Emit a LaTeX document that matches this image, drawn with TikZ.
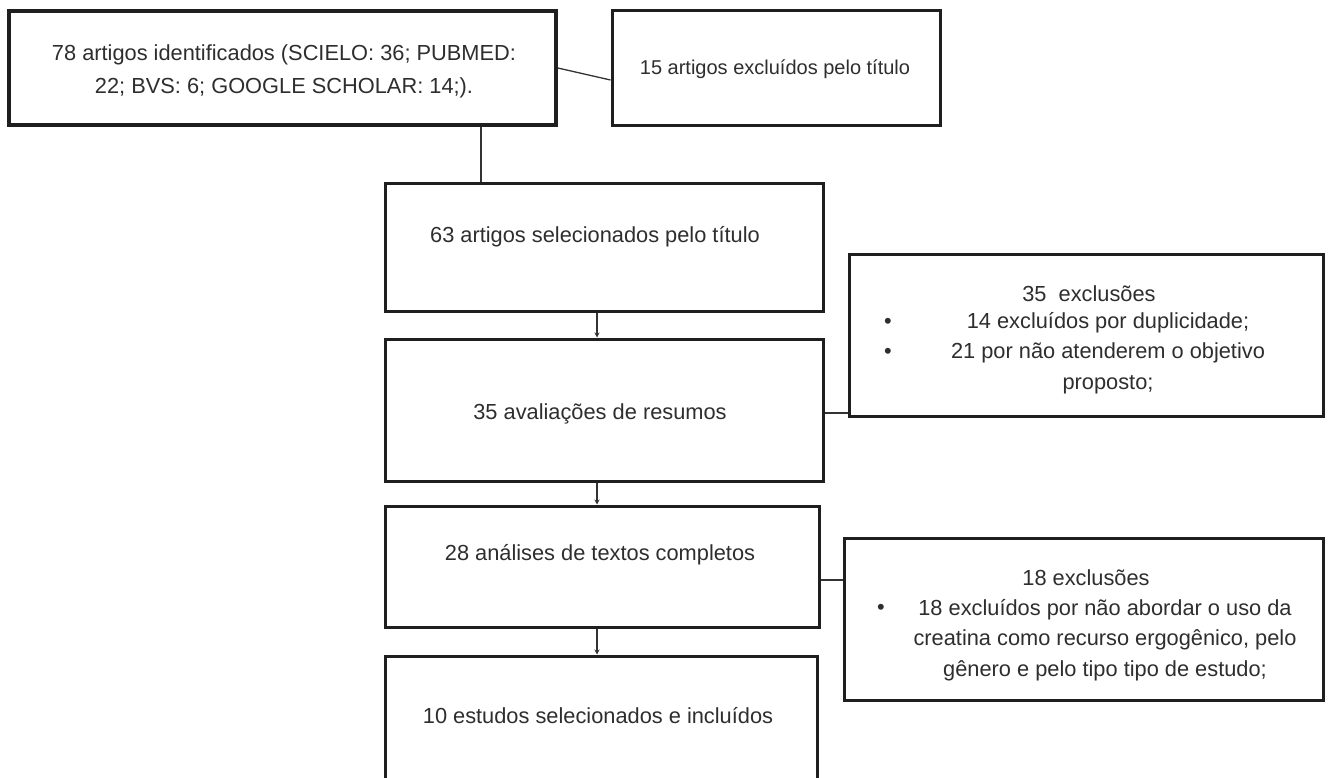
\documentclass[tikz,border=0pt]{standalone}
\usepackage{fontspec}
\setmainfont{Liberation Sans}
\usetikzlibrary{arrows.meta}
\begin{document}
\begin{tikzpicture}[x=1pt,y=-1pt,
 box/.style={draw=black!88, line width=3pt, inner sep=0pt, fill=white},
 txt/.style={font=\fontsize{21.8}{33}\selectfont, text=black!82, inner sep=0pt, align=center},
 stxt/.style={font=\fontsize{21.8}{30.5}\selectfont, text=black!82, inner sep=0pt, align=center},
 link/.style={draw=black!80, line width=1.3pt},
 arr/.style={link, -{Stealth[length=5pt,width=5pt]}}]
\useasboundingbox (0,0) rectangle (1330,778);
\clip (0,0) rectangle (1330,778);
\fill[white] (0,0) rectangle (1330,778);
% boxes
\node[box, line width=3.6pt, minimum width=547pt, minimum height=114pt] (A) at (282.5,68) {};
\node[box, minimum width=328pt, minimum height=115pt] (B) at (776,68.5) {};
\node[box, minimum width=438pt, minimum height=127pt] (C) at (604,247.5) {};
\node[box, minimum width=438pt, minimum height=142pt] (D) at (604,410) {};
\node[box, minimum width=474pt, minimum height=162pt] (E) at (1086,335) {};
\node[box, minimum width=434pt, minimum height=121pt] (F) at (602,566.5) {};
\node[box, minimum width=479pt, minimum height=162pt] (G) at (1083.5,619) {};
\node[box, minimum width=432pt, minimum height=144pt] (H) at (601,728) {};
% helper coordinates
\coordinate (ac) at (481,0);
\coordinate (mid) at (597,0);
\coordinate (de) at (0,413);
\coordinate (fg) at (0,580);
% connectors
\draw[link] (A.east) -- ([yshift=-11.5pt]B.west);
\draw[link] (A.south -| ac) -- (C.north -| ac);
\draw[arr] (C.south -| mid) -- (D.north -| mid);
\draw[arr] (D.south -| mid) -- (F.north -| mid);
\draw[arr] (F.south -| mid) -- (H.north -| mid);
\draw[link] (de -| D.east) -- (de -| E.west);
\draw[link] (fg -| F.east) -- (fg -| G.west);
% texts
\node[txt] (tA) at (284,71) {78 artigos identificados (SCIELO: 36; PUBMED:\\22; BVS: 6; GOOGLE SCHOLAR: 14;).};
\node[txt, font=\fontsize{20}{30}\selectfont] (tB) at (775,69) {15 artigos excluídos pelo título};
\node[txt] (tC) at (595,237) {63 artigos selecionados pelo título};
\node[txt] (tD) at (600,414) {35 avaliações de resumos};
\node[txt] (tF) at (600,555) {28 análises de textos completos};
\node[txt] (tH) at (598,716) {10 estudos selecionados e incluídos};
% E contents
\node[txt] (tE0) at (1089,294) {35\ \ exclusões};
\node[txt] (bE1) at (888,323) {•};
\node[txt] (bE2) at (888,353) {•};
\node[stxt] (tE1) at (1108,353) {14 excluídos por duplicidade;\\21 por não atenderem o objetivo\\proposto;};
% G contents
\node[txt] (tG0) at (1086,578) {18 exclusões};
\node[txt] (bG1) at (881,609) {•};
\node[stxt] (tG1) at (1105,640) {18 excluídos por não abordar o uso da\\creatina como recurso ergogênico, pelo\\gênero e pelo tipo tipo de estudo;};
\end{tikzpicture}
\end{document}
